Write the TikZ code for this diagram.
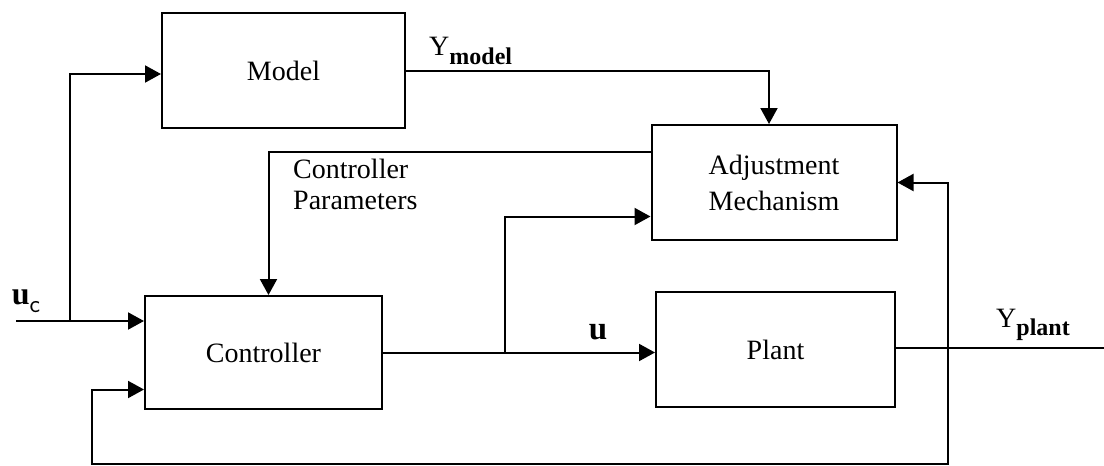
\documentclass[tikz,border=0pt]{standalone}
\usepackage{fontspec}
\setmainfont{Liberation Serif}
\usetikzlibrary{arrows.meta}

\begin{document}
\begin{tikzpicture}[x=1pt, y=-1pt, >={Triangle[length=16pt,width=17pt]},
  block/.style={draw, line width=2pt, minimum width=#1, minimum height=115pt,
    inner sep=0pt, align=center, font=\fontsize{28}{36}\selectfont},
  wire/.style={line width=2pt},
  lbl/.style={inner sep=0pt, font=\fontsize{28}{31}\selectfont}]
  \useasboundingbox (0,0) rectangle (1104,466);

  \node[block=243pt] (model) at (283.5,70.5) {Model};
  \node[block=245pt] (adjust) at (774,182.5) {Adjustment\\Mechanism};
  \node[block=237pt, minimum height=113pt] (ctrl) at (263.5,352.5) {Controller};
  \node[block=239pt] (plant) at (775.5,349.5) {Plant};

  \coordinate (uc) at (16,321);
  \coordinate (ucsplit) at (70,321);
  \coordinate (usplit) at (505,352.5);
  \coordinate (ysplit) at (948,348);
  \coordinate (yout) at (1104,348);
  \coordinate (br) at (948,464);
  \coordinate (bl) at (92,464);

  \draw[wire,->] (uc) -- (uc -| ctrl.west);
  \draw[wire,->] (ucsplit) |- ([yshift=-3.5pt]model.west);
  \draw[wire,->] (model.east) -| ([xshift=-5pt]adjust.north);
  \draw[wire,->] ([yshift=-28pt]adjust.north west) -| ([xshift=5pt]ctrl.north);
  \draw[wire,->] (ctrl.east) -- (ctrl.east -| plant.west);
  \draw[wire,->] (usplit) |- ([yshift=-34pt]adjust.west);
  \draw[wire] (plant.east |- ysplit) -- (yout);
  \draw[wire,->] (ysplit) -- (br) -- (bl) |- ([yshift=-37pt]ctrl.west);
  \draw[wire,->] (ysplit) |- (adjust.east);

  \node[lbl] (uclbl) at (26,301) {\fontsize{32}{32}\selectfont\textbf{u}\raisebox{-8pt}{\fontsize{25}{25}\sffamily c}};
  \node[lbl, anchor=base west] (ymodel) at (429,55) {Y\raisebox{-9pt}{\fontsize{24}{24}\selectfont\bfseries model}};
  \node[lbl] (ulbl) at (598,332) {\fontsize{33}{33}\selectfont\textbf{u}};
  \node[lbl, anchor=base west] (yplant) at (996,327) {Y\raisebox{-8pt}{\fontsize{24}{24}\selectfont\bfseries plant}};
  \node[lbl, anchor=north west, align=left] (params) at (293,159) {Controller\\Parameters};
\end{tikzpicture}
\end{document}
